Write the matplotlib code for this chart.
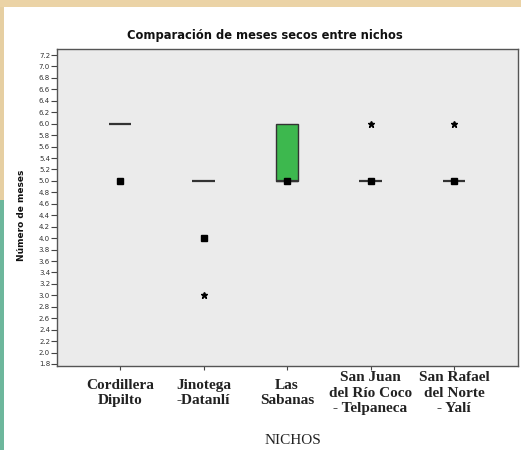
import matplotlib
matplotlib.use("Agg")
import matplotlib.pyplot as plt
import matplotlib.patches as mpatches
import numpy as np

categories = ["Cordillera\nDipilto", "Jinotega\n-Datanlí", "Las\nSabanas",
              "San Juan\ndel Río Coco\n- Telpaneca", "San Rafael\ndel Norte\n- Yalí"]
box_q1 = [6.0, 5.0, 5.0, 5.0, 5.0]
box_q3 = [6.0, 5.0, 6.0, 5.0, 5.0]
median = [6.0, 5.0, 5.0, 5.0, 5.0]
outliers = [5.0, 4.0, 5.0, 5.0, 5.0]      # square markers
extremes = [None, 3.0, None, 6.0, 6.0]    # star markers
yticks = [round(1.8 + 0.2 * i, 1) for i in range(28)]

fig = plt.figure(figsize=(5.21, 4.5), dpi=100)
fig.patch.set_facecolor("white")
# decorative page background strips
fig.add_artist(mpatches.Rectangle((0, 1 - 7/450), 1, 7/450, transform=fig.transFigure,
                                  facecolor="#ebd3a6", edgecolor="none"))
fig.add_artist(mpatches.Rectangle((0, 0), 4/521, 1 - 200/450, transform=fig.transFigure,
                                  facecolor="#6db79c", edgecolor="none"))
fig.add_artist(mpatches.Rectangle((0, 1 - 200/450), 4/521, 193/450, transform=fig.transFigure,
                                  facecolor="#e6cfa2", edgecolor="none"))

ax = fig.add_axes([57/521, 1 - 366/450, 461/521, 317/450])
ax.set_facecolor("#ebebeb")
for s in ax.spines.values():
    s.set_color("#555555")
    s.set_linewidth(1.0)

x = np.arange(len(categories))
bw = 0.27
for i in x:
    lo, hi = box_q1[i], box_q3[i]
    if hi > lo:
        ax.add_patch(mpatches.Rectangle((i - bw/2, lo), bw, hi - lo,
                                        facecolor="#3db84e", edgecolor="#333333",
                                        linewidth=1.0, zorder=2))
    ax.plot([i - bw/2, i + bw/2], [median[i], median[i]], color="#333333",
            linewidth=1.6, solid_capstyle="butt", zorder=3)
    ax.plot(i, outliers[i], marker="s", color="black", markersize=5, linestyle="none", zorder=4)
    if extremes[i] is not None:
        ax.plot(i, extremes[i], marker="*", color="black", markersize=5, linestyle="none", zorder=4)

ax.set_xlim(-0.755, 4.766)
ax.set_ylim(1.765, 7.305)
ax.set_yticks(yticks)
ax.set_yticklabels([f"{v:.1f}" for v in yticks], fontsize=5, color="#333333")
ax.tick_params(axis="y", length=4, width=0.8, pad=1, color="#444444")
ax.set_xticks(x)
ax.set_xticklabels(categories, fontsize=11, family="Liberation Serif", fontweight="bold",
                   color="#222222", linespacing=1.25)
for lab in ax.get_xticklabels():
    lab.set_va("center")
ax.tick_params(axis="x", length=3, width=0.8, pad=16.5, color="#444444")

fig.text(265/521, 1 - 35/450, "Comparación de meses secos entre nichos", fontsize=8.3,
         fontweight="bold", ha="center", va="center", color="#111111")
fig.text(22/521, 1 - 215/450, "Número de meses", fontsize=6.5, fontweight="bold",
         rotation=90, ha="center", va="center", color="#111111")
fig.text(293/521, 1 - 440/450, "NICHOS", ha="center", va="center", fontsize=11,
         family="Liberation Serif", color="#222222")

fig.savefig("out.png", dpi=100)
